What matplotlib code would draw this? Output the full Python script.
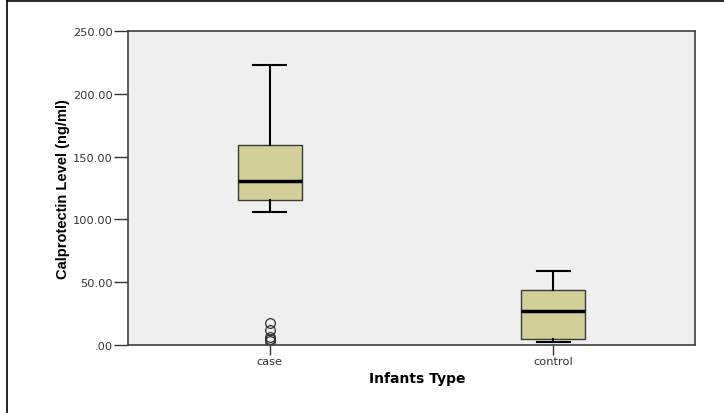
import matplotlib.pyplot as plt
from matplotlib.lines import Line2D

# --- data ---
groups = ["case", "control"]
whisker_low = [106.0, 2.6]
q1 = [115.2, 4.5]
median = [130.5, 26.8]
q3 = [159.5, 43.6]
whisker_high = [223.0, 58.7]
case_outliers = [17.3, 11.9, 6.6, 4.5, 3.2]
control_outliers = []
yticks = [0, 50, 100, 150, 200, 250]
ytick_labels = [".00", "50.00", "100.00", "150.00", "200.00", "250.00"]

plt.rcParams["font.family"] = ["Liberation Sans", "DejaVu Sans"]

fig = plt.figure(figsize=(7.24, 4.14), dpi=100)
ax = fig.add_axes([128 / 724, 1 - 346 / 414, 567 / 724, 314 / 414])

stats = []
fliers = [case_outliers, control_outliers]
for i, g in enumerate(groups):
    stats.append({
        "label": g,
        "whislo": whisker_low[i],
        "q1": q1[i],
        "med": median[i],
        "q3": q3[i],
        "whishi": whisker_high[i],
        "fliers": fliers[i],
    })

ax.bxp(stats, positions=[0, 1], widths=0.226, patch_artist=True,
       boxprops=dict(facecolor="#d4ce98", edgecolor="#3a3a3a", linewidth=1.0),
       medianprops=dict(color="black", linewidth=2.5),
       whiskerprops=dict(color="black", linewidth=1.5),
       capprops=dict(color="black", linewidth=1.5),
       capwidths=0.115,
       flierprops=dict(marker="o", markerfacecolor="none", markeredgecolor="#333333",
                       markersize=7, markeredgewidth=0.9))

ax.set_xlim(-0.5, 1.5)
ax.set_ylim(0, 250)
ax.set_facecolor("#efefef")
for s in ax.spines.values():
    s.set_color("#404040")
    s.set_linewidth(1.2)

ax.set_yticks(yticks)
ax.set_yticklabels(ytick_labels, family="DejaVu Sans")
ax.set_xticks([0, 1])
ax.set_xticklabels(groups, family="DejaVu Sans")
ax.tick_params(axis="y", direction="out", length=10, width=1, colors="#333333", labelsize=8.2, pad=1)
ax.tick_params(axis="x", direction="out", length=7, width=1, colors="#333333", labelsize=8.2, pad=1)

ax.set_ylabel("Calprotectin Level (ng/ml)", fontsize=10.5, fontweight="bold", labelpad=2)
ax.set_xlabel("Infants Type", fontsize=10, fontweight="bold", family="DejaVu Sans", labelpad=6)
ax.xaxis.set_label_coords(0.51, -0.083)

# outer frame: top and left lines
fig.add_artist(Line2D([7 / 724, 1], [1 - 2 / 414, 1 - 2 / 414], color="black", linewidth=1.2))
fig.add_artist(Line2D([7 / 724, 7 / 724], [0, 1 - 2 / 414], color="black", linewidth=1.2))

plt.savefig("out.png", dpi=100)
